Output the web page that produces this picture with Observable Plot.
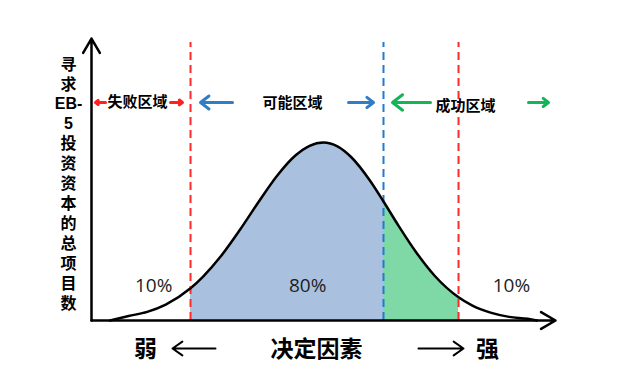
<!DOCTYPE html>
<html>
<head>
<meta charset="utf-8">
<script src="https://cdn.jsdelivr.net/npm/d3@7"></script>
<script src="https://cdn.jsdelivr.net/npm/@observablehq/plot@0.6"></script>
<style>
  html, body { margin: 0; padding: 0; background: #fff; }
  svg { display: block; }
</style>
</head>
<body>
<div id="chart"></div>
<script>
// Bell curve (x: decision factor 0–100, y: number of projects 0–100)
const curveX = [4, 8, 12, 16, 21.34, 24, 28, 32, 36, 40, 44, 47, 50, 53, 56, 60, 62.93, 66, 70, 74, 79.1, 82, 86, 90, 94, 96];
const curveY = [0, 1.6, 3.1, 5.7, 11.5, 15.6, 23.2, 32.4, 42.3, 51.7, 59.0, 62.4, 63.6, 62.2, 58.3, 50.0, 42.5, 34.3, 24.3, 15.9, 8.3, 5.4, 2.8, 1.3, 0.6, 0];

// Zone boundaries
const failBound = 21.34;
const successBound = 62.93;
const topBound = 79.1;

// Texts
const zoneLabels = ["失败区域", "可能区域", "成功区域"];
const shareLabels = ["10%", "80%", "10%"];
const yLabelLines = ["寻", "求", "EB-", "5", "投", "资", "资", "本", "的", "总", "项", "目", "数"];
const bottomLabels = ["弱", "决定因素", "强"];

const curve = curveX.map((x, i) => ({x, y: curveY[i]}));
const blueZone = curve.filter(d => d.x >= failBound && d.x <= successBound);
const greenZone = curve.filter(d => d.x >= successBound && d.x <= topBound);

const cjk = "'Noto Sans CJK SC', 'Noto Sans', sans-serif";
const tightCjk = "'Liberation Sans', 'Noto Sans CJK SC', sans-serif";

const rowY = 77.86;

const chart = Plot.plot({
  width: 624,
  height: 387,
  marginLeft: 91,
  marginRight: 69,
  marginTop: 40,
  marginBottom: 67,
  x: {domain: [0, 100], axis: null},
  y: {domain: [0, 100], axis: null},
  style: {background: "#fff", overflow: "visible"},
  marks: [
    Plot.areaY(blueZone, {x: "x", y: "y", fill: "#a9c1de", curve: "monotone-x"}),
    Plot.areaY(greenZone, {x: "x", y: "y", fill: "#7fd9a7", curve: "monotone-x"}),
    Plot.ruleX([failBound, topBound], {y1: 0, y2: 99.3, stroke: "#ff2a2a", strokeWidth: 2, strokeDasharray: "8,5"}),
    Plot.ruleX([successBound], {y1: 0, y2: 99.3, stroke: "#1f7cd0", strokeWidth: 2, strokeDasharray: "8,5"}),
    Plot.lineY(curve, {x: "x", y: "y", stroke: "#000", strokeWidth: 2.5, curve: "monotone-x"}),
    // axes
    Plot.arrow([{x1: 0, y1: 0, x2: 0, y2: 100.7}], {x1: "x1", y1: "y1", x2: "x2", y2: "y2", stroke: "#000", strokeWidth: 2.5, headLength: 10}),
    Plot.arrow([{x1: 0, y1: 0, x2: 100, y2: 0}], {x1: "x1", y1: "y1", x2: "x2", y2: "y2", stroke: "#000", strokeWidth: 2.5, headLength: 10}),
    // zone arrows
    Plot.arrow([
      {x1: 3.02, x2: 0.86, c: "#ff2020"},
      {x1: 17.03, x2: 19.61, c: "#ff2020"},
      {x1: 30.39, x2: 23.49, c: "#2e7dc6"},
      {x1: 55.39, x2: 60.78, c: "#2e7dc6"},
      {x1: 73.06, x2: 64.87, c: "#14b45a"},
      {x1: 94.18, x2: 98.49, c: "#14b45a"}
    ], {x1: "x1", x2: "x2", y1: rowY, y2: rowY, stroke: "c", strokeWidth: 3, headLength: 8, headAngle: 75}),
    Plot.text([zoneLabels[0]], {x: 9.91, y: rowY, text: d => d, fontSize: 15, fontWeight: "bold", fontFamily: cjk, fill: "#000"}),
    Plot.text([zoneLabels[1]], {x: 43.3, y: 77.5, text: d => d, fontSize: 15, fontWeight: "bold", fontFamily: cjk, fill: "#000"}),
    Plot.text([zoneLabels[2]], {x: 80.6, y: 76.4, text: d => d, fontSize: 15, fontWeight: "bold", fontFamily: cjk, fill: "#000"}),
    // shares
    Plot.text(shareLabels, {x: [13.4, 46.6, 90.5], y: [12.5, 12.5, 12.5], text: d => d, fontSize: 19, fontFamily: "'Open Sans', sans-serif", fill: "#1e1e1e"}),
    // y label
    Plot.text([yLabelLines.join("\n")], {x: -4.96, y: 49.2, text: d => d, fontSize: 16, lineHeight: 1.245, fontWeight: "bold", fontFamily: tightCjk, fill: "#000", lineAnchor: "middle"}),
    // bottom labels
    Plot.text(bottomLabels, {x: [11.64, 48.49, 85.34], y: [-10.36, -10.36, -10.36], text: d => d, fontSize: [23, 23, 23], fontWeight: "bold", fontFamily: cjk, fill: "#000"}),
    Plot.arrow([
      {x1: 26.72, x2: 17.46},
      {x1: 70.47, x2: 80.17}
    ], {x1: "x1", x2: "x2", y1: -10, y2: -10, stroke: "#000", strokeWidth: 2, headLength: 9, headAngle: 70})
  ]
});
document.getElementById("chart").appendChild(chart);
</script>
</body>
</html>
